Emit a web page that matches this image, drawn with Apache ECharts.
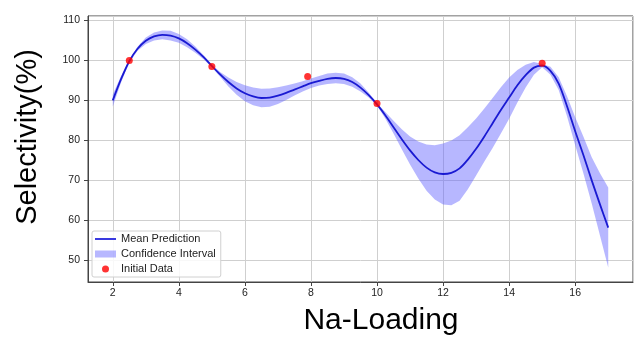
<!DOCTYPE html>
<html>
<head>
<meta charset="utf-8">
<script src="https://cdn.jsdelivr.net/npm/echarts@6/dist/echarts.min.js"></script>
<style>
  html, body { margin: 0; padding: 0; background: #fff; }
  #chart { width: 635px; height: 338px; }
</style>
</head>
<body>
<div id="chart"></div>
<script>
// Na-loading grid used for the GP prediction
const loading = [
  2, 2.25, 2.5, 2.75, 3, 3.25, 3.5, 3.75, 4, 4.25, 4.5, 4.75,
  5, 5.25, 5.5, 5.75, 6, 6.25, 6.5, 6.75, 7, 7.25, 7.5, 7.75,
  8, 8.25, 8.5, 8.75, 9, 9.25, 9.5, 9.75, 10, 10.25, 10.5, 10.75,
  11, 11.25, 11.5, 11.75, 12, 12.25, 12.5, 12.75, 13, 13.25, 13.5, 13.75,
  14, 14.25, 14.5, 14.75, 15, 15.25, 15.5, 15.75, 16, 16.25, 16.5, 16.75, 17
];
const meanPred = [
  90, 95.3, 99.8, 102.9, 104.9, 106, 106.4, 106.2, 105.5, 104.3, 102.7, 100.8,
  98.6, 96.5, 94.6, 93, 91.8, 91, 90.6, 90.7, 91.2, 91.9, 92.7, 93.5,
  94.3, 94.9, 95.4, 95.6, 95.4, 94.6, 93.2, 91.3, 89, 86.3, 83.3, 80.3,
  77.5, 75.1, 73.2, 72, 71.6, 71.9, 73, 75.2, 77.9, 81, 84.3, 87.6,
  90.7, 93.8, 96.3, 98.2, 98.7, 97.4, 94.2, 88.6, 82.3, 76.3, 70, 64, 58.2
];
const ciLower = [
  88.5, 94.5, 99.5, 102.4, 104.1, 105, 105.3, 105, 104.4, 103.3, 101.9, 100.3,
  98.3, 95.9, 93.5, 91.4, 89.8, 88.8, 88.3, 88.4, 89.1, 90.1, 91.2, 92.2,
  93.1, 93.7, 94.1, 94.3, 94.1, 93.4, 92.2, 90.7, 88.7, 85.5, 81.7, 77.8,
  74, 70.5, 67.4, 65.2, 64, 63.8, 64.9, 67.8, 71.2, 74.7, 78.1, 81.7,
  85.4, 89.5, 93.2, 96.4, 98.3, 96.4, 92.6, 86.1, 78.8, 71.7, 64.2, 56.2, 48.2
];
const ciUpper = [
  91.5, 96.1, 100.1, 103.4, 105.7, 107, 107.5, 107.4, 106.6, 105.3, 103.5, 101.3,
  98.9, 97.1, 95.7, 94.6, 93.8, 93.2, 92.9, 93, 93.3, 93.7, 94.2, 94.8,
  95.5, 96.1, 96.7, 96.9, 96.7, 95.8, 94.2, 91.9, 89.3, 87.1, 84.9, 82.8,
  81, 79.7, 79, 78.8, 79.2, 80, 81.3, 83.3, 85.5, 88, 90.6, 93.3,
  95.7, 97.6, 98.9, 99.6, 99.1, 98.4, 95.8, 91.1, 85.8, 80.9, 75.8, 71.8, 68.2
];
// measured points
const initLoading = [2.5, 5, 7.9, 10, 15];
const initSelectivity = [100, 98.5, 96, 89.2, 99.3];

const chart = echarts.init(document.getElementById("chart"));

const bandRows = loading.map((x, i) => [x, ciLower[i], ciUpper[i]]);
const meanData = loading.map((x, i) => [x, meanPred[i]]);
const pointData = initLoading.map((x, i) => [x, initSelectivity[i]]);

const bandColor = "rgba(95, 95, 255, 0.45)";
const lineColor = "#1a1ad2";
const gridColor = "#cfcfcf";

// fill between lower and upper bound, drawn once as a polygon
function renderBand(params, api) {
  if (params.dataIndex !== 0) return;
  const pts = [];
  for (let i = 0; i < bandRows.length; i++) {
    pts.push(api.coord([bandRows[i][0], bandRows[i][2]]));
  }
  for (let i = bandRows.length - 1; i >= 0; i--) {
    pts.push(api.coord([bandRows[i][0], bandRows[i][1]]));
  }
  return {
    type: "polygon",
    shape: { points: pts },
    style: { fill: bandColor }
  };
}

const option = {
  backgroundColor: "#fff",
  animation: false,
  textStyle: { fontFamily: "Liberation Sans, Arial, sans-serif" },
  grid: {
    left: 88, top: 16, right: 2, bottom: 56,
    show: true, borderColor: "#444", borderWidth: 1
  },
  xAxis: {
    type: "value",
    min: 1.25, max: 17.75, splitNumber: 8,
    axisLine: { lineStyle: { color: "#444" } },
    axisTick: { show: true, length: 4, lineStyle: { color: "#444" } },
    axisLabel: { color: "#222", fontSize: 10.5, margin: 6, showMinLabel: false, showMaxLabel: false },
    splitLine: { show: true, lineStyle: { color: gridColor, width: 1 } }
  },
  yAxis: {
    type: "value",
    min: 44.6, max: 111.1, splitNumber: 6,
    axisLine: { show: true, lineStyle: { color: "#444" } },
    axisTick: { show: true, length: 4, lineStyle: { color: "#444" } },
    axisLabel: { color: "#222", fontSize: 10.5, margin: 8, showMinLabel: false, showMaxLabel: false },
    splitLine: { show: true, lineStyle: { color: gridColor, width: 1 } }
  },
  legend: {
    orient: "vertical",
    left: 92, top: 231,
    padding: [2, 5, 2, 3],
    itemWidth: 21, itemHeight: 7, itemGap: 3,
    backgroundColor: "rgba(255,255,255,0.85)",
    borderColor: "#d0d0d0", borderWidth: 1, borderRadius: 2,
    textStyle: { fontSize: 11, color: "#222", lineHeight: 12 },
    data: [
      { name: "Mean Prediction", icon: "path://M0,0H21V2H0Z", itemStyle: { color: "#3a3ae0" } },
      { name: "Confidence Interval", icon: "rect", itemStyle: { color: bandColor } },
      { name: "Initial Data", icon: "circle", itemStyle: { color: "#ff0000" } }
    ]
  },
  graphic: [
    {
      type: "text", x: 28, y: 137, rotation: Math.PI / 2,
      style: {
        text: "Selectivity(%)", font: "29px 'Liberation Sans', Arial, sans-serif",
        fill: "#000", align: "center", verticalAlign: "middle"
      }
    },
    {
      type: "text", x: 381, y: 321,
      style: {
        text: "Na-Loading", font: "30px 'Liberation Sans', Arial, sans-serif",
        fill: "#000", align: "center", verticalAlign: "middle"
      }
    }
  ],
  series: [
    {
      name: "Confidence Interval", type: "custom", data: bandRows,
      renderItem: renderBand, silent: true, z: 1,
      itemStyle: { color: bandColor },
      encode: { x: 0, y: [1, 2] }
    },
    {
      name: "Mean Prediction", type: "line", data: meanData,
      symbol: "none", smooth: 0.3, z: 2,
      itemStyle: { color: lineColor },
      lineStyle: { color: lineColor, width: 1.8 }
    },
    {
      name: "Initial Data", type: "scatter", data: pointData,
      symbolSize: 7, itemStyle: { color: "#ff0000" }, z: 5
    }
  ]
};

chart.setOption(option);
</script>
</body>
</html>
